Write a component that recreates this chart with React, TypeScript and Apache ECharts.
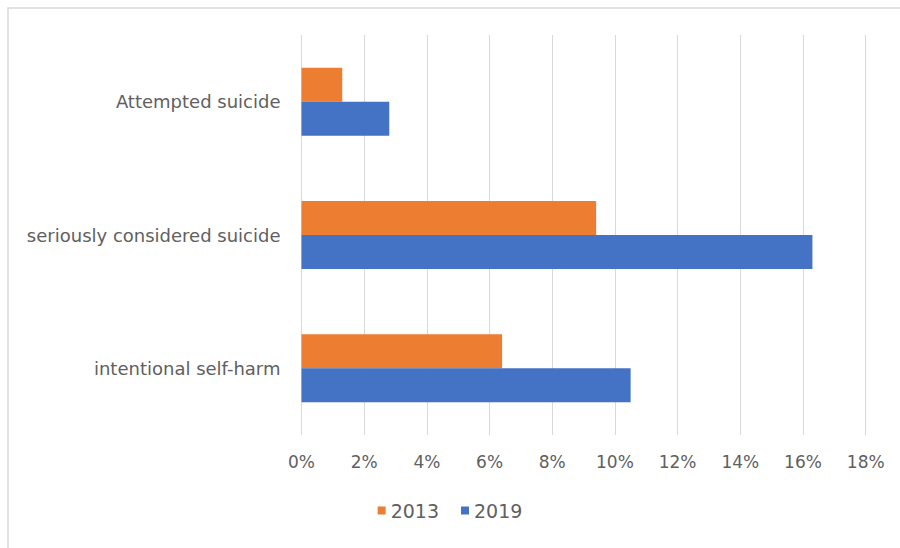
import React, { useEffect, useRef } from "react";
import * as echarts from "echarts";

const categories = ["intentional self-harm", "seriously considered suicide", "Attempted suicide"];
const values2013 = [6.4, 9.4, 1.3];
const values2019 = [10.5, 16.3, 2.8];
const seriesNames = ["2013", "2019"];
const colors = ["#ED7D31", "#4472C4"];
const xTicks = { min: 0, max: 18, interval: 2 };

export default function App() {
  const ref = useRef<HTMLDivElement>(null);
  useEffect(() => {
    if (!ref.current) return;
    const chart = echarts.init(ref.current, null, { renderer: "svg" });
    const font = "'DejaVu Sans', sans-serif";
    const textColor = "#606060";
    chart.setOption({
      animation: false,
      backgroundColor: "#ffffff",
      textStyle: { fontFamily: font },
      graphic: [
        {
          type: "rect",
          shape: { x: 8, y: 8, width: 900, height: 548 },
          style: { fill: "none", stroke: "#D9D9D9", lineWidth: 1.5 },
          silent: true,
          z: -1,
        },
      ],
      legend: {
        data: seriesNames,
        top: 496,
        left: "center",
        itemWidth: 8,
        itemHeight: 8,
        itemGap: 22,
        icon: "rect",
        textStyle: { color: textColor, fontSize: 19, fontFamily: font },
      },
      grid: { left: 301.5, right: 34.3, top: 35, bottom: 113, containLabel: false },
      xAxis: {
        type: "value",
        min: xTicks.min,
        max: xTicks.max,
        interval: xTicks.interval,
        axisLabel: {
          formatter: (v: number) => v + "%",
          color: textColor,
          fontSize: 17,
          fontFamily: font,
          margin: 18,
        },
        axisLine: { show: false },
        axisTick: { show: false },
        splitLine: { show: true, lineStyle: { color: "#D9D9D9", width: 1 } },
      },
      yAxis: {
        type: "category",
        data: categories,
        axisLine: { show: false },
        axisTick: { show: false },
        axisLabel: { color: textColor, fontSize: 18, fontFamily: font, margin: 21 },
        splitLine: { show: false },
      },
      series: [
        {
          name: seriesNames[0],
          type: "bar",
          data: values2013,
          itemStyle: { color: colors[0] },
          barGap: "0%",
          barCategoryGap: "49%",
        },
        {
          name: seriesNames[1],
          type: "bar",
          data: values2019,
          itemStyle: { color: colors[1] },
          barGap: "0%",
          barCategoryGap: "49%",
        },
      ],
    });
    return () => chart.dispose();
  }, []);
  return <div ref={ref} style={{ width: 900, height: 548, position: "absolute", left: 0, top: 0 }} />;
}
